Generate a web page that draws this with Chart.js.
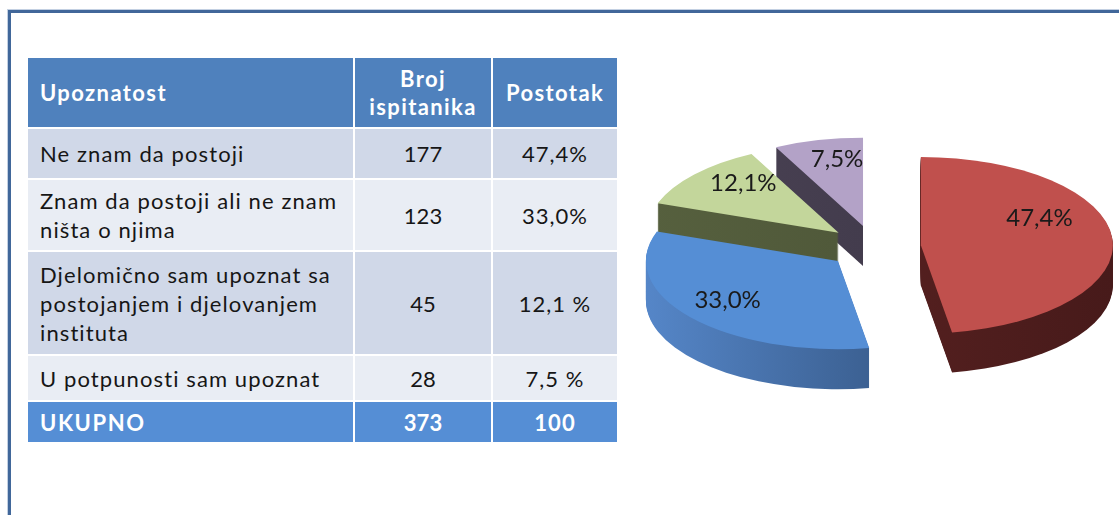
<!DOCTYPE html>
<html>
<head>
<meta charset="utf-8">
<script src="https://cdn.jsdelivr.net/npm/chart.js@4.4.0/dist/chart.umd.min.js"></script>
<style>
  html, body { margin: 0; padding: 0; width: 1119px; height: 515px; overflow: hidden; background: #fff; }
  .frame { position: absolute; left: 8px; top: 10px; width: 1200px; height: 600px;
           border: 3px solid #41679a; box-shadow: 0 0 0 1px #c3d0e2; }
  table { position: absolute; left: 26px; top: 56px; border-collapse: collapse;
          font-family: Lato, "Open Sans", sans-serif; font-size: 22px; color: #161616; }
  th, td { border: 2px solid #fff; padding: 0 12px; white-space: pre-line; line-height: 29px; }
  th { background: #4f81bd; color: #fff; font-weight: bold; text-align: center; letter-spacing: 1.4px; line-height: 28px; }
  th:first-child { text-align: left; }
  td { text-align: center; }
  td:first-child { text-align: left; letter-spacing: 1.1px; }
  td:last-child { letter-spacing: 1px; }
  tr.odd td { background: #d0d8e8; }
  tr.even td { background: #e9edf4; }
  tr.total td { background: #558ed5; color: #fff; font-weight: bold; }
  tr.total td:first-child { letter-spacing: 1.6px; }
  #pie { position: absolute; left: 630px; top: 67px; }
</style>
</head>
<body>
<div class="frame"></div>
<table id="tbl"></table>
<canvas id="pie" width="488" height="360"></canvas>
<script>
// table / chart data
const headers = ['Upoznatost', 'Broj\nispitanika', 'Postotak'];
const categories = [
  'Ne znam da postoji',
  'Znam da postoji ali ne znam\nništa o njima',
  'Djelomično sam upoznat sa\npostojanjem i djelovanjem\ninstituta',
  'U potpunosti sam upoznat'
];
const counts = [177, 123, 45, 28];
const percents = [47.4, 33.0, 12.1, 7.5];
const percentText = ['47,4%', '33,0%', '12,1 %', '7,5 %'];
const totalRow = ['UKUPNO', 373, 100];

// build the table
const colW = [327, 138, 126];
const rowH = [69, 49, 70, 102, 44, 40];
const tbl = document.getElementById('tbl');
let html = '<tr>' + headers.map((h, j) =>
  '<th style="width:' + (colW[j] - 26) + 'px;height:' + rowH[0] + 'px">' + h + '</th>').join('') + '</tr>';
categories.forEach((c, i) => {
  html += '<tr class="' + (i % 2 ? 'even' : 'odd') + '">' +
    [c, counts[i], percentText[i]].map(v => '<td style="height:' + rowH[i + 1] + 'px">' + v + '</td>').join('') + '</tr>';
});
html += '<tr class="total">' + totalRow.map(v => '<td style="height:' + rowH[5] + 'px">' + v + '</td>').join('') + '</tr>';
tbl.innerHTML = html;

// 3D exploded pie
const topColors = ['#c0504d', '#558ed5', '#c3d69b', '#b3a2c7'];
const sideColors = [['#5e2423', '#471a1a'], ['#5586c8', '#2a466c'], ['#56603e', '#4a5236'], ['#4a4254', '#3c3646']];
const tilt = 0.46, depth = 40, explode = 47;
// label radius factor and lift, per slice
const labelAt = [[0.62, 23], [0.75, 3], [0.66, 11], [0.58, 17]];

const fmt = v => v.toFixed(1).replace('.', ',') + '%';

const pie3d = {
  id: 'pie3d',
  beforeDatasetsDraw(chart) {
    const ctx = chart.ctx;
    const arcs = chart.getDatasetMeta(0).data;
    const cx = arcs[0].x, cy = arcs[0].y;
    const mid = a => (a.startAngle + a.endAngle) / 2;
    const order = arcs.map((a, i) => i).sort((a, b) => Math.sin(mid(arcs[a])) - Math.sin(mid(arcs[b])));

    ctx.save();
    ctx.translate(cx, cy);
    ctx.scale(1, tilt);
    ctx.translate(-cx, -cy);
    order.forEach(i => {
      const arc = arcs[i];
      const m = mid(arc);
      const dx = Math.cos(m) * explode, dy = Math.sin(m) * explode;
      const r = arc.outerRadius;
      const g = ctx.createLinearGradient(cx + dx - r, 0, cx + dx + r, 0);
      g.addColorStop(0, sideColors[i][0]);
      g.addColorStop(1, sideColors[i][1]);
      ctx.fillStyle = g;
      for (let d = depth; d > 0; d--) {
        const ox = cx + dx, oy = cy + dy + d / tilt;
        ctx.beginPath();
        ctx.moveTo(ox, oy);
        ctx.arc(ox, oy, r, arc.startAngle, arc.endAngle);
        ctx.closePath();
        ctx.fill();
      }
      ctx.save();
      ctx.translate(dx, dy);
      arc.draw(ctx);
      ctx.restore();
    });
    ctx.restore();

    ctx.save();
    ctx.font = '24px Lato';
    ctx.fillStyle = '#1a1a1a';
    ctx.textAlign = 'center';
    ctx.textBaseline = 'middle';
    arcs.forEach((arc, i) => {
      const m = mid(arc);
      const fr = arc.outerRadius * labelAt[i][0];
      const x = cx + Math.cos(m) * (explode + fr);
      const y = cy + Math.sin(m) * (explode + fr) * tilt - labelAt[i][1];
      ctx.fillText(fmt(percents[i]), x, y);
    });
    ctx.restore();
    return false;
  }
};

new Chart(document.getElementById('pie'), {
  type: 'pie',
  data: {
    labels: categories,
    datasets: [{
      data: percents,
      backgroundColor: topColors,
      borderWidth: 0,
      radius: 192
    }]
  },
  options: {
    responsive: false,
    animation: false,
    events: [],
    plugins: { legend: { display: false }, tooltip: { enabled: false } }
  },
  plugins: [pie3d]
});
</script>
</body>
</html>
